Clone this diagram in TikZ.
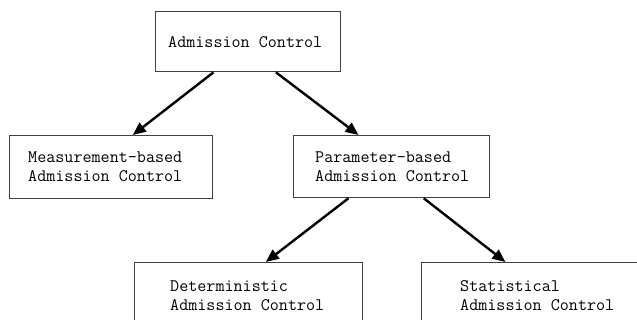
\documentclass[tikz,border=0pt]{standalone}
\usepackage{fontspec}
\usetikzlibrary{arrows.meta,calc}
\begin{document}
\begin{tikzpicture}[x=1pt,y=-1pt,
  box/.style={draw=black!75,line width=1.3pt,rectangle,inner sep=0pt,anchor=north west},
  label/.style={font=\ttfamily\fontsize{17.6pt}{19pt}\selectfont,align=left,anchor=west,inner sep=0pt},
  link/.style={line width=2.4pt,-{Triangle[length=13pt,width=11pt]}}]
\useasboundingbox (0,0) rectangle (637,320);
\fill[white] (0,0) rectangle (637,320);
\clip (0,0) rectangle (637,320);

% boxes
\node[box,minimum width=185pt,minimum height=60pt] (top) at (155,11) {};
\node[box,minimum width=203pt,minimum height=63pt] (meas) at (9,135) {};
\node[box,minimum width=196pt,minimum height=62pt] (param) at (293,135) {};
\node[box,minimum width=228pt,minimum height=70pt] (det) at (134,262) {};
\node[box,minimum width=228pt,minimum height=70pt] (stat) at (421,262) {};

% texts
\node[label] (ttop) at (168,42) {Admission Control};
\node[label] (tmeas) at (28,167) {Measurement-based\\Admission Control};
\node[label] (tparam) at (315,167) {Parameter-based\\Admission Control};
\node[label] (tdet) at (170,296) {Deterministic\\Admission Control};
\node[label] (tstat) at (460,296) {Statistical\\Admission Control};

% connectors
\draw[link] ($(top.south west)!0.314!(top.south east)$) -- ($(meas.north west)!0.606!(meas.north east)$);
\draw[link] ($(top.south west)!0.649!(top.south east)$) -- ($(param.north west)!0.332!(param.north east)$);
\draw[link] ($(param.south west)!0.281!(param.south east)$) -- ($(det.north west)!0.575!(det.north east)$);
\draw[link] ($(param.south west)!0.663!(param.south east)$) -- ($(stat.north west)!0.368!(stat.north east)$);
\end{tikzpicture}
\end{document}
